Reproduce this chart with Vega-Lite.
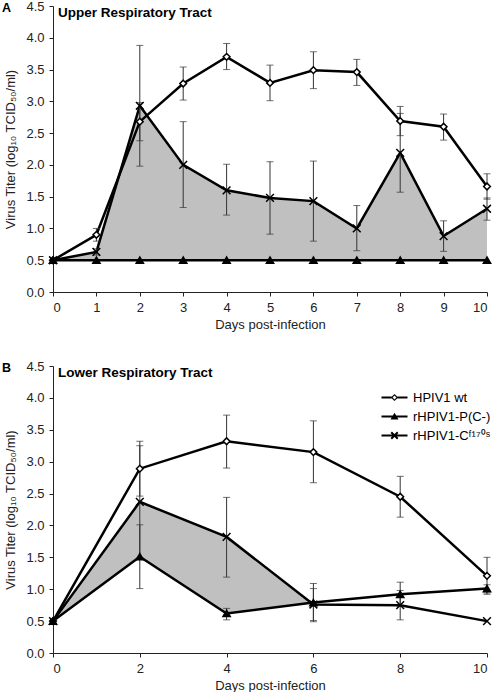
{
  "$schema": "https://vega.github.io/schema/vega-lite/v6.json",
  "padding": {"left": 2, "top": 0, "right": 0, "bottom": 0},
  "datasets": {
    "titer": [
      {"panel": "U", "s": "wt", "label": "HPIV1 wt", "day": 0, "mean": 0.5, "lo": null, "hi": null},
      {"panel": "U", "s": "wt", "label": "HPIV1 wt", "day": 1, "mean": 0.9, "lo": 0.8, "hi": 1.0},
      {"panel": "U", "s": "wt", "label": "HPIV1 wt", "day": 2, "mean": 2.68, "lo": 2.38, "hi": 2.98},
      {"panel": "U", "s": "wt", "label": "HPIV1 wt", "day": 3, "mean": 3.28, "lo": 3.02, "hi": 3.54},
      {"panel": "U", "s": "wt", "label": "HPIV1 wt", "day": 4, "mean": 3.7, "lo": 3.5, "hi": 3.91},
      {"panel": "U", "s": "wt", "label": "HPIV1 wt", "day": 5, "mean": 3.29, "lo": 3.01, "hi": 3.57},
      {"panel": "U", "s": "wt", "label": "HPIV1 wt", "day": 6, "mean": 3.49, "lo": 3.2, "hi": 3.78},
      {"panel": "U", "s": "wt", "label": "HPIV1 wt", "day": 7, "mean": 3.46, "lo": 3.25, "hi": 3.66},
      {"panel": "U", "s": "wt", "label": "HPIV1 wt", "day": 8, "mean": 2.69, "lo": 2.46, "hi": 2.92},
      {"panel": "U", "s": "wt", "label": "HPIV1 wt", "day": 9, "mean": 2.6, "lo": 2.39, "hi": 2.8},
      {"panel": "U", "s": "wt", "label": "HPIV1 wt", "day": 10, "mean": 1.66, "lo": 1.46, "hi": 1.86},
      {"panel": "U", "s": "P", "label": "rHPIV1-P(C-)", "day": 0, "mean": 0.5, "lo": null, "hi": null},
      {"panel": "U", "s": "P", "label": "rHPIV1-P(C-)", "day": 1, "mean": 0.5, "lo": null, "hi": null},
      {"panel": "U", "s": "P", "label": "rHPIV1-P(C-)", "day": 2, "mean": 0.5, "lo": null, "hi": null},
      {"panel": "U", "s": "P", "label": "rHPIV1-P(C-)", "day": 3, "mean": 0.5, "lo": null, "hi": null},
      {"panel": "U", "s": "P", "label": "rHPIV1-P(C-)", "day": 4, "mean": 0.5, "lo": null, "hi": null},
      {"panel": "U", "s": "P", "label": "rHPIV1-P(C-)", "day": 5, "mean": 0.5, "lo": null, "hi": null},
      {"panel": "U", "s": "P", "label": "rHPIV1-P(C-)", "day": 6, "mean": 0.5, "lo": null, "hi": null},
      {"panel": "U", "s": "P", "label": "rHPIV1-P(C-)", "day": 7, "mean": 0.5, "lo": null, "hi": null},
      {"panel": "U", "s": "P", "label": "rHPIV1-P(C-)", "day": 8, "mean": 0.5, "lo": null, "hi": null},
      {"panel": "U", "s": "P", "label": "rHPIV1-P(C-)", "day": 9, "mean": 0.5, "lo": null, "hi": null},
      {"panel": "U", "s": "P", "label": "rHPIV1-P(C-)", "day": 10, "mean": 0.5, "lo": null, "hi": null},
      {"panel": "U", "s": "C", "label": "rHPIV1-Cᶠ¹⁷⁰ˢ", "day": 0, "mean": 0.5, "lo": null, "hi": null},
      {"panel": "U", "s": "C", "label": "rHPIV1-Cᶠ¹⁷⁰ˢ", "day": 1, "mean": 0.63, "lo": 0.58, "hi": 0.68},
      {"panel": "U", "s": "C", "label": "rHPIV1-Cᶠ¹⁷⁰ˢ", "day": 2, "mean": 2.93, "lo": 1.98, "hi": 3.88},
      {"panel": "U", "s": "C", "label": "rHPIV1-Cᶠ¹⁷⁰ˢ", "day": 3, "mean": 2.0, "lo": 1.33, "hi": 2.68},
      {"panel": "U", "s": "C", "label": "rHPIV1-Cᶠ¹⁷⁰ˢ", "day": 4, "mean": 1.6, "lo": 1.21, "hi": 2.01},
      {"panel": "U", "s": "C", "label": "rHPIV1-Cᶠ¹⁷⁰ˢ", "day": 5, "mean": 1.48, "lo": 0.91, "hi": 2.05},
      {"panel": "U", "s": "C", "label": "rHPIV1-Cᶠ¹⁷⁰ˢ", "day": 6, "mean": 1.43, "lo": 0.8, "hi": 2.06},
      {"panel": "U", "s": "C", "label": "rHPIV1-Cᶠ¹⁷⁰ˢ", "day": 7, "mean": 1.0, "lo": 0.65, "hi": 1.36},
      {"panel": "U", "s": "C", "label": "rHPIV1-Cᶠ¹⁷⁰ˢ", "day": 8, "mean": 2.19, "lo": 1.57, "hi": 2.81},
      {"panel": "U", "s": "C", "label": "rHPIV1-Cᶠ¹⁷⁰ˢ", "day": 9, "mean": 0.88, "lo": 0.64, "hi": 1.12},
      {"panel": "U", "s": "C", "label": "rHPIV1-Cᶠ¹⁷⁰ˢ", "day": 10, "mean": 1.31, "lo": 1.13, "hi": 1.48},
      {"panel": "L", "s": "wt", "label": "HPIV1 wt", "day": 0, "mean": 0.5, "lo": null, "hi": null},
      {"panel": "L", "s": "wt", "label": "HPIV1 wt", "day": 2, "mean": 2.89, "lo": 2.46, "hi": 3.32},
      {"panel": "L", "s": "wt", "label": "HPIV1 wt", "day": 4, "mean": 3.32, "lo": 2.9, "hi": 3.73},
      {"panel": "L", "s": "wt", "label": "HPIV1 wt", "day": 6, "mean": 3.15, "lo": 2.67, "hi": 3.64},
      {"panel": "L", "s": "wt", "label": "HPIV1 wt", "day": 8, "mean": 2.45, "lo": 2.13, "hi": 2.77},
      {"panel": "L", "s": "wt", "label": "HPIV1 wt", "day": 10, "mean": 1.21, "lo": 0.92, "hi": 1.5},
      {"panel": "L", "s": "P", "label": "rHPIV1-P(C-)", "day": 0, "mean": 0.5, "lo": null, "hi": null},
      {"panel": "L", "s": "P", "label": "rHPIV1-P(C-)", "day": 2, "mean": 1.51, "lo": 1.01, "hi": 2.01},
      {"panel": "L", "s": "P", "label": "rHPIV1-P(C-)", "day": 4, "mean": 0.62, "lo": 0.52, "hi": 0.7},
      {"panel": "L", "s": "P", "label": "rHPIV1-P(C-)", "day": 6, "mean": 0.79, "lo": 0.49, "hi": 1.09},
      {"panel": "L", "s": "P", "label": "rHPIV1-P(C-)", "day": 8, "mean": 0.92, "lo": 0.73, "hi": 1.11},
      {"panel": "L", "s": "P", "label": "rHPIV1-P(C-)", "day": 10, "mean": 1.01, "lo": 0.94, "hi": 1.07},
      {"panel": "L", "s": "C", "label": "rHPIV1-Cᶠ¹⁷⁰ˢ", "day": 0, "mean": 0.5, "lo": null, "hi": null},
      {"panel": "L", "s": "C", "label": "rHPIV1-Cᶠ¹⁷⁰ˢ", "day": 2, "mean": 2.37, "lo": 1.49, "hi": 3.25},
      {"panel": "L", "s": "C", "label": "rHPIV1-Cᶠ¹⁷⁰ˢ", "day": 4, "mean": 1.82, "lo": 1.19, "hi": 2.44},
      {"panel": "L", "s": "C", "label": "rHPIV1-Cᶠ¹⁷⁰ˢ", "day": 6, "mean": 0.76, "lo": 0.51, "hi": 1.01},
      {"panel": "L", "s": "C", "label": "rHPIV1-Cᶠ¹⁷⁰ˢ", "day": 8, "mean": 0.75, "lo": 0.52, "hi": 0.98},
      {"panel": "L", "s": "C", "label": "rHPIV1-Cᶠ¹⁷⁰ˢ", "day": 10, "mean": 0.5, "lo": null, "hi": null}
    ],
    "one": [{}]
  },
  "config": {
    "font": "Liberation Sans",
    "view": {"stroke": null},
    "axis": {
      "grid": false, "domainColor": "#222", "tickColor": "#222", "labelColor": "#222", "titleColor": "#222",
      "labelFontSize": 13, "titleFontSize": 13, "titleFontWeight": "normal", "tickSize": 4, "labelPadding": 5, "domainWidth": 1, "labelOverlap": false
    }
  },
  "spacing": 29,
  "resolve": {"scale": {"shape": "independent", "fill": "independent", "size": "independent"}, "legend": {"shape": "independent"}},
  "vconcat": [
    {
      "width": 434, "height": 286,
      "layer": [
        {
          "data": {"name": "titer"},
          "transform": [{"filter": "datum.panel === 'U'"}, {"pivot": "s", "value": "mean", "groupby": ["day"]}],
          "mark": {"type": "area", "color": "#c0c0c0", "opacity": 1},
          "encoding": {
            "x": {"field": "day", "type": "quantitative", "scale": {"domain": [0, 10], "nice": false}, "axis": {"values": [0,1,2,3,4,5,6,7,8,9,10], "tickCount": 11, "title": "Days post-infection", "titlePadding": 4}},
            "y": {"field": "C", "type": "quantitative", "scale": {"domain": [0, 4.5], "nice": false}, "axis": {"values": [0,0.5,1,1.5,2,2.5,3,3.5,4,4.5], "tickCount": 10, "format": ".1f", "title": "Virus Titer (log₁₀ TCID₅₀/ml)", "titlePadding": 8}},
            "y2": {"field": "P"}
          }
        },
        {
          "data": {"name": "titer"},
          "transform": [{"filter": "datum.panel === 'U'"}],
          "mark": {"type": "line", "color": "black", "strokeWidth": 2.5},
          "encoding": {
            "x": {"field": "day", "type": "quantitative", "axis": {"values": [0,1,2,3,4,5,6,7,8,9,10], "tickCount": 11, "title": "Days post-infection", "titlePadding": 4}},
            "y": {"field": "mean", "type": "quantitative", "axis": {"values": [0,0.5,1,1.5,2,2.5,3,3.5,4,4.5], "tickCount": 10, "format": ".1f", "title": "Virus Titer (log₁₀ TCID₅₀/ml)", "titlePadding": 8}},
            "detail": {"field": "s"}
          }
        },
        {
          "data": {"name": "titer"},
          "transform": [{"filter": "datum.panel === 'U' && datum.lo != null"}],
          "mark": {"type": "rule", "color": "#333", "strokeWidth": 1},
          "encoding": {
            "x": {"field": "day", "type": "quantitative", "axis": {"values": [0,1,2,3,4,5,6,7,8,9,10], "tickCount": 11, "title": "Days post-infection", "titlePadding": 4}},
            "y": {"field": "lo", "type": "quantitative", "axis": {"values": [0,0.5,1,1.5,2,2.5,3,3.5,4,4.5], "tickCount": 10, "format": ".1f", "title": "Virus Titer (log₁₀ TCID₅₀/ml)", "titlePadding": 8}},
            "y2": {"field": "hi"}
          }
        },
        {
          "data": {"name": "titer"},
          "transform": [{"filter": "datum.panel === 'U' && datum.lo != null"}, {"fold": ["lo", "hi"], "as": ["end", "val"]}],
          "mark": {"type": "tick", "orient": "horizontal", "color": "#333", "size": 7, "thickness": 1},
          "encoding": {
            "x": {"field": "day", "type": "quantitative", "axis": {"values": [0,1,2,3,4,5,6,7,8,9,10], "tickCount": 11, "title": "Days post-infection", "titlePadding": 4}},
            "y": {"field": "val", "type": "quantitative", "axis": {"values": [0,0.5,1,1.5,2,2.5,3,3.5,4,4.5], "tickCount": 10, "format": ".1f", "title": "Virus Titer (log₁₀ TCID₅₀/ml)", "titlePadding": 8}}
          }
        },
        {
          "data": {"name": "titer"},
          "transform": [{"filter": "datum.panel === 'U'"}],
          "mark": {"type": "point", "stroke": "black", "strokeWidth": 1.5, "opacity": 1},
          "encoding": {
            "x": {"field": "day", "type": "quantitative", "axis": {"values": [0,1,2,3,4,5,6,7,8,9,10], "tickCount": 11, "title": "Days post-infection", "titlePadding": 4}},
            "y": {"field": "mean", "type": "quantitative", "axis": {"values": [0,0.5,1,1.5,2,2.5,3,3.5,4,4.5], "tickCount": 10, "format": ".1f", "title": "Virus Titer (log₁₀ TCID₅₀/ml)", "titlePadding": 8}},
            "shape": {"field": "s", "type": "nominal", "scale": {"domain": ["wt", "P", "C"], "range": ["M0,-1L1,0L0,1L-1,0Z", "triangle-up", "M-1,-1L1,1M-1,1L1,-1"]}, "legend": null},
            "fill": {"field": "s", "type": "nominal", "scale": {"domain": ["wt", "P", "C"], "range": ["white", "black", "transparent"]}, "legend": null},
            "size": {"field": "s", "type": "nominal", "scale": {"domain": ["wt", "P", "C"], "range": [45, 60, 70]}, "legend": null}
          }
        },
        {
          "data": {"name": "one"},
          "mark": {"type": "text", "text": "Upper Respiratory Tract", "fontWeight": "bold", "fontSize": 13.5, "align": "left", "baseline": "top", "dx": 5, "color": "black"},
          "encoding": {
            "x": {"datum": 0, "type": "quantitative", "axis": {"values": [0,1,2,3,4,5,6,7,8,9,10], "tickCount": 11, "title": "Days post-infection", "titlePadding": 4}},
            "y": {"datum": 4.5, "type": "quantitative", "axis": {"values": [0,0.5,1,1.5,2,2.5,3,3.5,4,4.5], "tickCount": 10, "format": ".1f", "title": "Virus Titer (log₁₀ TCID₅₀/ml)", "titlePadding": 8}}
          }
        },
        {
          "data": {"name": "one"},
          "mark": {"type": "text", "text": "A", "fontWeight": "bold", "fontSize": 12.5, "align": "left", "baseline": "middle", "dx": -51, "dy": 2, "color": "black"},
          "encoding": {
            "x": {"datum": 0, "type": "quantitative", "axis": {"values": [0,1,2,3,4,5,6,7,8,9,10], "tickCount": 11, "title": "Days post-infection", "titlePadding": 4}},
            "y": {"datum": 4.5, "type": "quantitative", "axis": {"values": [0,0.5,1,1.5,2,2.5,3,3.5,4,4.5], "tickCount": 10, "format": ".1f", "title": "Virus Titer (log₁₀ TCID₅₀/ml)", "titlePadding": 8}}
          }
        }
      ]
    },
    {
      "width": 434, "height": 287,
      "resolve": {"scale": {"shape": "independent", "fill": "independent", "size": "independent"}},
      "layer": [
        {
          "data": {"name": "titer"},
          "transform": [{"filter": "datum.panel === 'L'"}, {"pivot": "s", "value": "mean", "groupby": ["day"]}, {"filter": "datum.day <= 6"}],
          "mark": {"type": "area", "color": "#c0c0c0", "opacity": 1},
          "encoding": {
            "x": {"field": "day", "type": "quantitative", "scale": {"domain": [0, 10], "nice": false}, "axis": {"values": [0,2,4,6,8,10], "tickCount": 6, "title": "Days post-infection", "titlePadding": 4}},
            "y": {"field": "C", "type": "quantitative", "scale": {"domain": [0, 4.5], "nice": false}, "axis": {"values": [0,0.5,1,1.5,2,2.5,3,3.5,4,4.5], "tickCount": 10, "format": ".1f", "title": "Virus Titer (log₁₀ TCID₅₀/ml)", "titlePadding": 8}},
            "y2": {"field": "P"}
          }
        },
        {
          "data": {"name": "titer"},
          "transform": [{"filter": "datum.panel === 'L'"}],
          "mark": {"type": "line", "color": "black", "strokeWidth": 2.5},
          "encoding": {
            "x": {"field": "day", "type": "quantitative", "axis": {"values": [0,2,4,6,8,10], "tickCount": 6, "title": "Days post-infection", "titlePadding": 4}},
            "y": {"field": "mean", "type": "quantitative", "axis": {"values": [0,0.5,1,1.5,2,2.5,3,3.5,4,4.5], "tickCount": 10, "format": ".1f", "title": "Virus Titer (log₁₀ TCID₅₀/ml)", "titlePadding": 8}},
            "detail": {"field": "s"}
          }
        },
        {
          "data": {"name": "titer"},
          "transform": [{"filter": "datum.panel === 'L' && datum.lo != null"}],
          "mark": {"type": "rule", "color": "#333", "strokeWidth": 1},
          "encoding": {
            "x": {"field": "day", "type": "quantitative", "axis": {"values": [0,2,4,6,8,10], "tickCount": 6, "title": "Days post-infection", "titlePadding": 4}},
            "y": {"field": "lo", "type": "quantitative", "axis": {"values": [0,0.5,1,1.5,2,2.5,3,3.5,4,4.5], "tickCount": 10, "format": ".1f", "title": "Virus Titer (log₁₀ TCID₅₀/ml)", "titlePadding": 8}},
            "y2": {"field": "hi"}
          }
        },
        {
          "data": {"name": "titer"},
          "transform": [{"filter": "datum.panel === 'L' && datum.lo != null"}, {"fold": ["lo", "hi"], "as": ["end", "val"]}],
          "mark": {"type": "tick", "orient": "horizontal", "color": "#333", "size": 7, "thickness": 1},
          "encoding": {
            "x": {"field": "day", "type": "quantitative", "axis": {"values": [0,2,4,6,8,10], "tickCount": 6, "title": "Days post-infection", "titlePadding": 4}},
            "y": {"field": "val", "type": "quantitative", "axis": {"values": [0,0.5,1,1.5,2,2.5,3,3.5,4,4.5], "tickCount": 10, "format": ".1f", "title": "Virus Titer (log₁₀ TCID₅₀/ml)", "titlePadding": 8}}
          }
        },
        {
          "data": {"name": "titer"},
          "transform": [{"filter": "datum.panel === 'L'"}],
          "mark": {"type": "point", "stroke": "black", "strokeWidth": 1.5, "opacity": 1},
          "encoding": {
            "x": {"field": "day", "type": "quantitative", "axis": {"values": [0,2,4,6,8,10], "tickCount": 6, "title": "Days post-infection", "titlePadding": 4}},
            "y": {"field": "mean", "type": "quantitative", "axis": {"values": [0,0.5,1,1.5,2,2.5,3,3.5,4,4.5], "tickCount": 10, "format": ".1f", "title": "Virus Titer (log₁₀ TCID₅₀/ml)", "titlePadding": 8}},
            "shape": {"field": "s", "type": "nominal", "scale": {"domain": ["wt", "P", "C"], "range": ["M0,-1L1,0L0,1L-1,0Z", "triangle-up", "M-1,-1L1,1M-1,1L1,-1"]}, "legend": null},
            "fill": {"field": "s", "type": "nominal", "scale": {"domain": ["wt", "P", "C"], "range": ["white", "black", "transparent"]}, "legend": null},
            "size": {"field": "s", "type": "nominal", "scale": {"domain": ["wt", "P", "C"], "range": [45, 60, 70]}, "legend": null}
          }
        },
        {
          "data": {"name": "titer"},
          "transform": [{"filter": "false"}],
          "mark": {"type": "point", "filled": true, "color": "black", "opacity": 1},
          "encoding": {
            "x": {"field": "day", "type": "quantitative", "axis": {"values": [0,2,4,6,8,10], "tickCount": 6, "title": "Days post-infection", "titlePadding": 4}},
            "y": {"field": "mean", "type": "quantitative", "axis": {"values": [0,0.5,1,1.5,2,2.5,3,3.5,4,4.5], "tickCount": 10, "format": ".1f", "title": "Virus Titer (log₁₀ TCID₅₀/ml)", "titlePadding": 8}},
            "shape": {"field": "label", "type": "nominal",
              "scale": {"domain": ["HPIV1 wt", "rHPIV1-P(C-)", "rHPIV1-Cᶠ¹⁷⁰ˢ"], "range": [
                "M-2.6,-0.22H-0.6V0.22H-2.6ZM0.6,-0.22H2.6V0.22H0.6ZM0,-0.72L0.72,0L0,0.72L-0.72,0ZM0,-0.38L-0.38,0L0,0.38L0.38,0Z",
                "M-2.6,-0.22H2.6V0.22H-2.6ZM0,-0.75L0.8,0.6L-0.8,0.6Z",
                "M-2.6,-0.22H2.6V0.22H-2.6ZM-0.79,-0.51L-0.51,-0.79L0.79,0.51L0.51,0.79ZM-0.79,0.51L0.51,-0.79L0.79,-0.51L-0.51,0.79Z"
              ]},
              "legend": {
                "title": " ", "titleFontSize": 12, "titlePadding": 17, "orient": "top-right", "offset": -4, "padding": 0,
                "labelFontSize": 13, "labelColor": "black", "symbolSize": 100, "labelOffset": 12, "rowPadding": 5,
                "symbolOpacity": 1, "symbolFillColor": "black", "symbolStrokeWidth": 0
              }
            }
          }
        },
        {
          "data": {"name": "one"},
          "mark": {"type": "text", "text": "Lower Respiratory Tract", "fontWeight": "bold", "fontSize": 13.5, "align": "left", "baseline": "top", "dx": 5, "color": "black"},
          "encoding": {
            "x": {"datum": 0, "type": "quantitative", "axis": {"values": [0,2,4,6,8,10], "tickCount": 6, "title": "Days post-infection", "titlePadding": 4}},
            "y": {"datum": 4.5, "type": "quantitative", "axis": {"values": [0,0.5,1,1.5,2,2.5,3,3.5,4,4.5], "tickCount": 10, "format": ".1f", "title": "Virus Titer (log₁₀ TCID₅₀/ml)", "titlePadding": 8}}
          }
        },
        {
          "data": {"name": "one"},
          "mark": {"type": "text", "text": "B", "fontWeight": "bold", "fontSize": 12.5, "align": "left", "baseline": "middle", "dx": -51, "dy": 2, "color": "black"},
          "encoding": {
            "x": {"datum": 0, "type": "quantitative", "axis": {"values": [0,2,4,6,8,10], "tickCount": 6, "title": "Days post-infection", "titlePadding": 4}},
            "y": {"datum": 4.5, "type": "quantitative", "axis": {"values": [0,0.5,1,1.5,2,2.5,3,3.5,4,4.5], "tickCount": 10, "format": ".1f", "title": "Virus Titer (log₁₀ TCID₅₀/ml)", "titlePadding": 8}}
          }
        }
      ]
    }
  ]
}
